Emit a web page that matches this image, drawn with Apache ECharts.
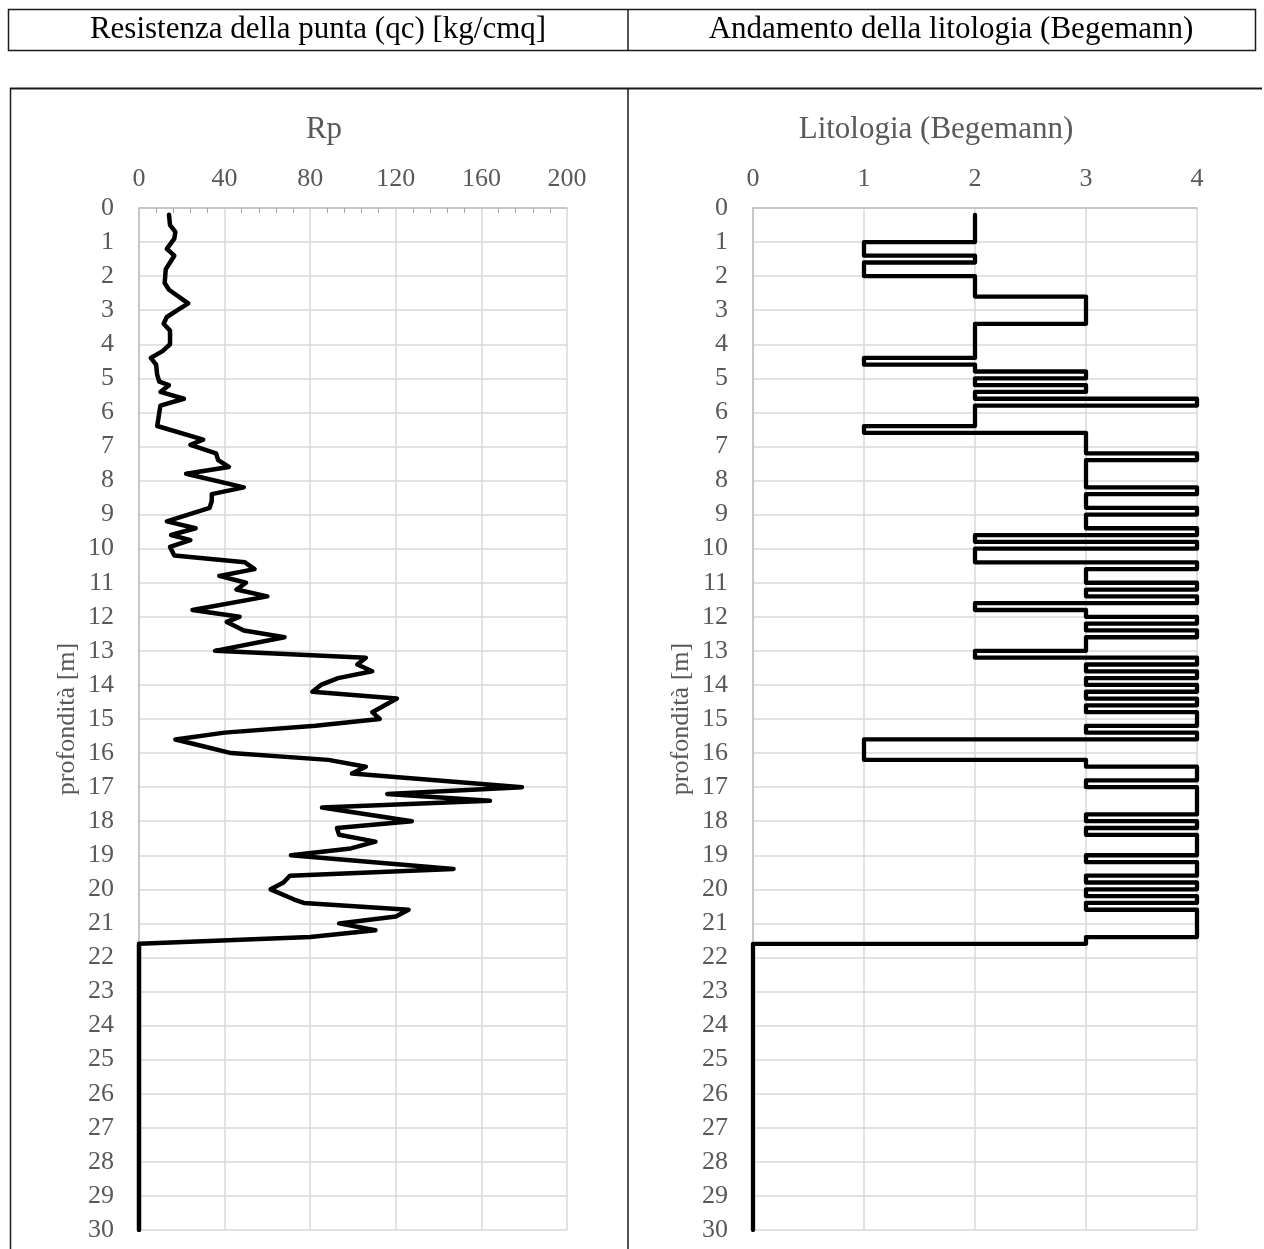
<!DOCTYPE html>
<html><head><meta charset="utf-8">
<script src="https://cdn.jsdelivr.net/npm/echarts@6/dist/echarts.min.js"></script>
<style>html,body{margin:0;padding:0;background:#fff}#c{width:1264px;height:1249px}</style>
</head><body><div id="c"></div>
<script>
// ---- Data ----
// Rp (qc) profile: depth [m] and resistance [kg/cmq]
const rpDepth = [0.2,0.5,0.7,0.9,1.2,1.4,1.6,1.8,2.2,2.4,2.8,3.0,3.2,3.4,3.6,4.0,4.2,4.4,4.6,4.9,5.1,5.2,5.4,5.6,5.8,6.0,6.4,6.8,6.95,7.2,7.4,7.6,7.8,8.2,8.4,8.6,8.8,9.2,9.4,9.6,9.75,9.95,10.2,10.4,10.6,10.8,11.0,11.2,11.4,11.8,12.0,12.15,12.4,12.6,13.0,13.2,13.4,13.6,13.8,14.0,14.2,14.4,14.8,15.0,15.2,15.4,15.6,15.8,16.0,16.2,16.4,16.6,17.0,17.2,17.4,17.6,18.0,18.2,18.4,18.6,18.8,19.0,19.4,19.6,19.8,20.0,20.3,20.4,20.6,20.8,21.0,21.2,21.4,21.6,30];
const rpValue = [14,14.5,17,16.5,13,16.5,14.5,12.5,12,14,23,18,13,11.5,14.5,14.5,11,5.5,8,8.5,9.5,14,10,21,10,9.5,8.5,30,24,36,37,42,22,49,34,34,33,13,26.5,15,24,14.5,16.5,49.5,54,37.5,50,45.5,60,25,47,41,49,68,35.5,106,102,109,93,85,81,120.5,109,112.5,82.5,40,17,30,43,88.5,106,99.5,179,116,164,85.5,127.5,92.5,93.5,110.5,99,71,147,70.5,67.5,61.5,72.5,77,126,120,93.5,110.5,80,0,0];

// Lithology (Begemann): start depth of each layer, its class; last depth closes the final layer
const lithDepth = [0.2,1.0,1.4,1.6,2.0,2.6,3.4,4.4,4.6,4.8,5.0,5.2,5.4,5.6,5.8,6.4,6.6,7.2,7.4,8.2,8.4,8.8,9.0,9.4,9.6,9.8,10.0,10.4,10.6,11.0,11.2,11.4,11.6,11.8,12.0,12.2,12.4,12.6,13.0,13.2,13.4,13.6,13.8,14.0,14.2,14.4,14.6,14.8,15.2,15.4,15.6,16.2,16.4,16.8,17.0,17.8,18.0,18.2,18.4,19.0,19.2,19.6,19.8,20.0,20.2,20.4,20.6,21.4,21.6,30];
const lithValue = [2,1,2,1,2,3,2,1,2,3,2,3,2,4,2,1,3,4,3,4,3,4,3,4,2,4,2,4,3,4,3,4,2,3,4,3,4,3,2,4,3,4,3,4,3,4,3,4,3,4,1,3,4,3,4,3,4,3,4,3,4,3,4,3,4,3,4,3,0];

// Axis ranges / titles
const rpAxisMax = 200, rpAxisStep = 40;
const lithAxisMax = 4, lithAxisStep = 1;
const depthMax = 30, depthStep = 1;
const headerTexts = ['Resistenza della punta (qc) [kg/cmq]', 'Andamento della litologia (Begemann)'];
const chartTitles = ['Rp', 'Litologia (Begemann)'];
const depthName = 'profondità [m]';

// ---- Build ----
const FONT = "'Liberation Serif','Times New Roman','DejaVu Serif',serif";
const GRAY = '#595959';
const GRID_C = '#d9d9d9';

const rpData = rpDepth.map((d, i) => [rpValue[i], d]);
const lithData = [];
for (let i = 0; i < lithValue.length; i++) {
  lithData.push([lithValue[i], lithDepth[i]]);
  lithData.push([lithValue[i], lithDepth[i + 1]]);
}

function xAx(gridIndex, max, interval, minor) {
  return {
    type: 'value', gridIndex, position: 'top', min: 0, max, interval,
    axisLine: { show: true, lineStyle: { color: '#bfbfbf', width: 1.5 } },
    axisTick: { show: false, inside: true },
    minorTick: { show: minor, splitNumber: 5, length: 5, lineStyle: { color: '#a6a6a6', width: 1 } },
    axisLabel: { color: GRAY, fontSize: 26, fontFamily: FONT, margin: 16 },
    splitLine: { show: true, lineStyle: { color: GRID_C, width: 1.5 } }
  };
}
function yAx(gridIndex) {
  return {
    type: 'value', gridIndex, inverse: true, min: 0, max: depthMax, interval: depthStep,
    name: depthName, nameLocation: 'middle', nameRotate: 90, nameGap: 59,
    nameTextStyle: { color: GRAY, fontSize: 26, fontFamily: FONT },
    axisLine: { show: true, lineStyle: { color: '#bfbfbf', width: 1.5 } },
    axisTick: { show: false },
    axisLabel: { color: GRAY, fontSize: 26, fontFamily: FONT, margin: 25 },
    splitLine: { show: true, lineStyle: { color: GRID_C, width: 1.5 } }
  };
}

const chart = echarts.init(document.getElementById('c'), null, { renderer: 'canvas' });
const lineCol = '#1a1a1a';
chart.setOption({
  animation: false,
  backgroundColor: '#fff',
  grid: [
    { left: 139, top: 208, width: 428, height: 1022, containLabel: false, outerBoundsMode: 'none' },
    { left: 753, top: 208, width: 444, height: 1022, containLabel: false, outerBoundsMode: 'none' }
  ],
  xAxis: [xAx(0, rpAxisMax, rpAxisStep, true), xAx(1, lithAxisMax, lithAxisStep, false)],
  yAxis: [yAx(0), yAx(1)],
  series: [
    { type: 'line', xAxisIndex: 0, yAxisIndex: 0, data: rpData, symbol: 'none', silent: true,
      lineStyle: { color: '#000', width: 4.5, join: 'round', cap: 'round' } },
    { type: 'line', xAxisIndex: 1, yAxisIndex: 1, data: lithData, symbol: 'none', silent: true,
      lineStyle: { color: '#000', width: 4.3, join: 'round', cap: 'round' } }
  ],
  graphic: [
    { type: 'rect', shape: { x: 8.5, y: 9.5, width: 1247, height: 41 }, style: { fill: 'none', stroke: lineCol, lineWidth: 1.5 } },
    { type: 'line', shape: { x1: 628, y1: 9.5, x2: 628, y2: 50.5 }, style: { stroke: lineCol, lineWidth: 1.5 } },
    { type: 'line', shape: { x1: 10, y1: 88.5, x2: 1262, y2: 88.5 }, style: { stroke: lineCol, lineWidth: 2 } },
    { type: 'line', shape: { x1: 10.5, y1: 88, x2: 10.5, y2: 1249 }, style: { stroke: lineCol, lineWidth: 1.5 } },
    { type: 'line', shape: { x1: 628, y1: 88, x2: 628, y2: 1249 }, style: { stroke: lineCol, lineWidth: 1.5 } },
    { type: 'text', x: 318, y: 30, style: { text: headerTexts[0], font: "31px " + FONT, fill: '#000', align: 'center', verticalAlign: 'middle' } },
    { type: 'text', x: 951, y: 30, style: { text: headerTexts[1], font: "31px " + FONT, fill: '#000', align: 'center', verticalAlign: 'middle' } },
    { type: 'text', x: 324, y: 130, style: { text: chartTitles[0], font: "31px " + FONT, fill: GRAY, align: 'center', verticalAlign: 'middle' } },
    { type: 'text', x: 936, y: 130, style: { text: chartTitles[1], font: "31px " + FONT, fill: GRAY, align: 'center', verticalAlign: 'middle' } }
  ]
});
</script></body></html>
